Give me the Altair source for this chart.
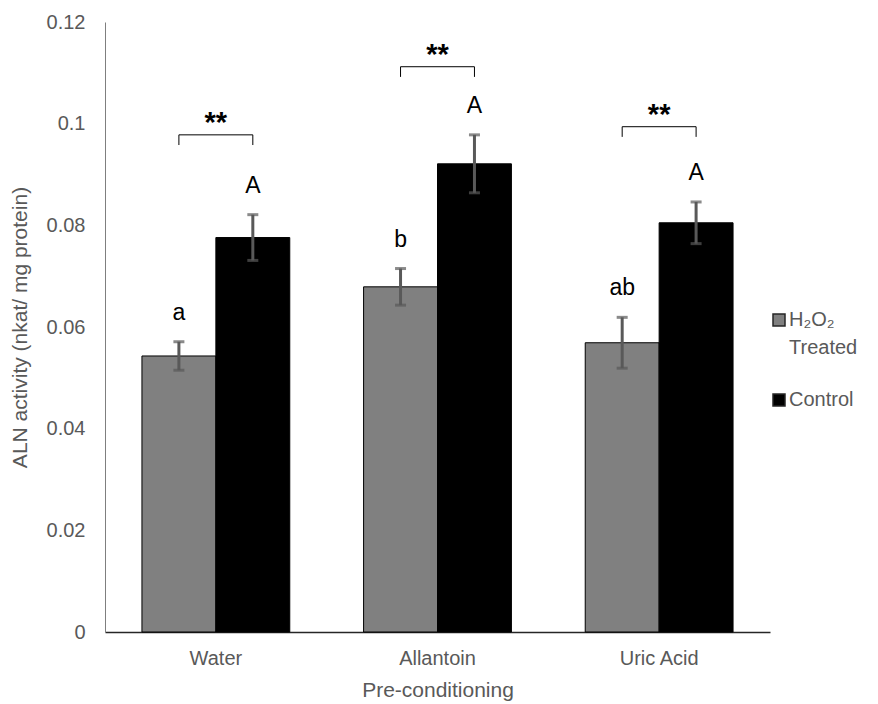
import altair as alt
import pandas as pd

categories = ["Water", "Allantoin", "Uric Acid"]
groups = ["H2O2 Treated", "Control"]
treated_means = [0.0543, 0.0679, 0.0569]
treated_err = [0.0028, 0.0036, 0.0050]
control_means = [0.0776, 0.0921, 0.0805]
control_err = [0.0045, 0.0057, 0.0041]
treated_letters = ["a", "b", "ab"]
control_letters = ["A", "A", "A"]
bracket_top = [0.0978, 0.1112, 0.0994]
bracket_drop = 0.002
y_ticks = [0, 0.02, 0.04, 0.06, 0.08, 0.1, 0.12]

rows = []
for i, c in enumerate(categories):
    rows.append(dict(category=c, group=groups[0], value=treated_means[i], err=treated_err[i], letter=treated_letters[i]))
    rows.append(dict(category=c, group=groups[1], value=control_means[i], err=control_err[i], letter=control_letters[i]))
df = pd.DataFrame(rows)
df["lo"] = df["value"] - df["err"]
df["hi"] = df["value"] + df["err"]

brows = []
for i, c in enumerate(categories):
    t = bracket_top[i]
    brows += [
        dict(category=c, group=groups[0], y=t - bracket_drop, o=0),
        dict(category=c, group=groups[0], y=t, o=1),
        dict(category=c, group=groups[1], y=t, o=2),
        dict(category=c, group=groups[1], y=t - bracket_drop, o=3),
    ]
bdf = pd.DataFrame(brows)
sdf = pd.DataFrame(dict(category=categories, top=bracket_top, stars=["**"] * 3))

FONT = "Liberation Sans"

x = alt.X(
    "category:N",
    sort=categories,
    scale=alt.Scale(paddingInner=0.333, paddingOuter=0.1667),
    axis=alt.Axis(
        title="Pre-conditioning",
        labelAngle=0,
        labelFontSize=20,
        labelColor="#595959",
        labelFont=FONT,
        labelPadding=16,
        ticks=False,
        domainColor="#262626",
        domainWidth=1.5,
        titleFontSize=21,
        titleFont=FONT,
        titleColor="#595959",
        titleFontWeight="normal",
        titleY=58,
        titleBaseline="middle",
    ),
)
xo = alt.XOffset("group:N", sort=groups, scale=alt.Scale(paddingInner=0, paddingOuter=0))
yscale = alt.Scale(domain=[0, 0.12], nice=False)

bars = alt.Chart(df).mark_bar(stroke="black", strokeWidth=1).encode(
    x=x,
    xOffset=xo,
    y=alt.Y(
        "value:Q",
        scale=yscale,
        axis=alt.Axis(
            title="ALN activity (nkat/ mg protein)",
            values=y_ticks,
            format="~g",
            labelFontSize=20,
            labelColor="#595959",
            labelFont=FONT,
            labelPadding=20,
            ticks=False,
            grid=False,
            domainColor="#7f7f7f",
            titleFontSize=21,
            titleFont=FONT,
            titleColor="#595959",
            titleFontWeight="normal",
            titleX=-85,
            titleY=305,
            titleBaseline="middle",
            titleAlign="center",
        ),
    ),
    color=alt.Color(
        "group:N",
        sort=groups,
        scale=alt.Scale(domain=groups, range=["#808080", "#000000"]),
        legend=alt.Legend(
            title=None,
            orient="none",
            legendX=664,
            legendY=288,
            symbolType="square",
            symbolSize=144,
            symbolStrokeColor="#262626",
            symbolStrokeWidth=1.5,
            labelFontSize=20,
            labelFont=FONT,
            labelColor="#595959",
            labelLimit=200,
            labelOffset=0,
            rowPadding=32,
            labelExpr="datum.label == 'H2O2 Treated' ? ['H₂O₂', 'Treated'] : datum.label",
        ),
    ),
)

err_rule = alt.Chart(df).mark_rule(color="#595959", strokeWidth=3).encode(
    x=x, xOffset=xo, y=alt.Y("lo:Q", scale=yscale), y2="hi:Q"
)
cap_lo = alt.Chart(df).mark_tick(color="#595959", size=11, thickness=3, orient="horizontal").encode(
    x=x, xOffset=xo, y=alt.Y("lo:Q", scale=yscale)
)
cap_hi = alt.Chart(df).mark_tick(color="#595959", size=11, thickness=3, orient="horizontal").encode(
    x=x, xOffset=xo, y=alt.Y("hi:Q", scale=yscale)
)
letters = alt.Chart(df).mark_text(fontSize=23, font=FONT, baseline="alphabetic", dy=-22, color="black").encode(
    x=x, xOffset=xo, y=alt.Y("hi:Q", scale=yscale), text="letter:N"
)
brackets = alt.Chart(bdf).mark_line(color="black", strokeWidth=1).encode(
    x=x, xOffset=xo, y=alt.Y("y:Q", scale=yscale), detail="category:N", order="o:Q"
)
stars = alt.Chart(sdf).mark_text(fontSize=29, font=FONT, fontWeight="bold", baseline="alphabetic", dy=-3, color="black").encode(
    x=x, y=alt.Y("top:Q", scale=yscale), text="stars:N"
)

chart = alt.layer(bars, err_rule, cap_lo, cap_hi, letters, brackets, stars).properties(
    width=665,
    height=610,
    padding={"left": 105, "top": 22, "right": 108, "bottom": 72},
    autosize="none",
).configure(
    style={"guide-label": {"lineHeight": 28}},
    view=alt.ViewConfig(stroke="transparent"),
)

chart.save("out.html", embed_options={"renderer": "svg", "actions": False})
